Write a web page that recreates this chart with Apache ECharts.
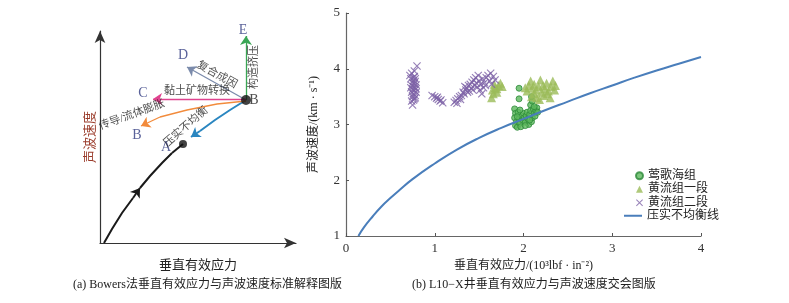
<!DOCTYPE html>
<html lang="zh" style="height: 100%">
<head>
  <meta charset="utf-8" />
  <title>垂直有效应力与声波速度</title>
</head>
<body style="height: 100%; margin: 0; background: #fff">
  <div id="container" style="width: 789px; height: 303px"></div>
  <script src="https://cdn.jsdelivr.net/npm/echarts@6/dist/echarts.min.js"></script>
  <script>
    // ---- (b) 交会图数据 ----
    const seriesNames = ['莺歌海组', '黄流组一段', '黄流组二段', '压实不均衡线'];
    const xTicks = [0, 1, 2, 3, 4];
    const yTicks = [1, 2, 3, 4, 5];

    // 莺歌海组 [应力, 速度]
    const yinggehai = [
      [1.95, 3.65], [1.95, 3.46], [1.90, 3.28], [1.91, 3.20], [1.90, 3.12], [1.92, 3.05], [1.91, 2.98],
      [1.93, 2.95], [1.94, 3.22], [1.95, 3.10], [1.96, 3.02], [1.97, 2.96], [1.98, 3.15], [1.99, 3.08],
      [2.00, 3.20], [2.01, 3.12], [2.02, 3.04], [2.03, 3.16], [2.04, 3.22], [2.05, 3.10], [2.06, 3.00],
      [2.07, 3.18], [2.08, 3.25], [2.08, 3.35], [2.09, 3.05], [2.10, 3.12], [2.10, 3.42], [2.11, 3.28],
      [2.12, 3.20], [2.13, 3.15], [2.14, 3.25], [2.15, 3.30], [2.16, 3.22], [1.93, 3.14], [1.96, 3.26],
      [2.02, 2.98], [2.07, 3.08], [2.12, 3.32], [2.09, 3.50]
    ];
    // 黄流组一段
    const huangliu1 = [
      [1.64, 3.48], [1.66, 3.55], [1.65, 3.62], [1.68, 3.66], [1.70, 3.58], [1.72, 3.70], [1.74, 3.74],
      [1.76, 3.68], [1.67, 3.72], [1.70, 3.64],
      [2.04, 3.60], [2.06, 3.70], [2.08, 3.78], [2.10, 3.65], [2.12, 3.55], [2.12, 3.72], [2.14, 3.62],
      [2.15, 3.48], [2.17, 3.68], [2.19, 3.80], [2.20, 3.58], [2.22, 3.70], [2.23, 3.52], [2.24, 3.64],
      [2.26, 3.74], [2.28, 3.60], [2.30, 3.48], [2.31, 3.68], [2.33, 3.78], [2.35, 3.62], [2.36, 3.70],
      [2.18, 3.45], [2.27, 3.55], [2.09, 3.50], [2.02, 3.66]
    ];
    // 黄流组二段
    const huangliu2 = [
      [0.75, 3.35], [0.74, 3.42], [0.77, 3.46], [0.75, 3.50], [0.78, 3.52], [0.76, 3.55], [0.74, 3.58],
      [0.79, 3.58], [0.77, 3.61], [0.75, 3.63], [0.78, 3.66], [0.76, 3.68], [0.74, 3.70], [0.79, 3.71],
      [0.77, 3.73], [0.75, 3.75], [0.78, 3.77], [0.76, 3.79], [0.73, 3.82], [0.78, 3.82], [0.76, 3.84],
      [0.72, 3.88], [0.74, 3.92], [0.77, 3.96], [0.80, 4.05], [0.78, 3.48], [0.76, 3.44], [0.79, 3.64],
      [0.73, 3.66], [0.77, 3.86],
      [0.97, 3.52], [1.00, 3.50], [1.02, 3.47], [1.04, 3.45], [1.06, 3.42], [1.09, 3.39], [1.03, 3.49],
      [1.07, 3.44],
      [1.22, 3.40], [1.24, 3.43], [1.26, 3.46], [1.25, 3.38], [1.28, 3.50], [1.30, 3.52], [1.29, 3.45],
      [1.32, 3.58], [1.33, 3.55], [1.35, 3.62], [1.36, 3.66], [1.37, 3.58], [1.38, 3.70], [1.40, 3.72],
      [1.41, 3.65], [1.42, 3.76], [1.44, 3.80], [1.45, 3.70], [1.46, 3.84], [1.47, 3.74], [1.48, 3.67],
      [1.50, 3.78], [1.51, 3.62], [1.52, 3.72], [1.53, 3.55], [1.54, 3.82], [1.55, 3.66], [1.56, 3.75],
      [1.57, 3.70], [1.58, 3.84], [1.60, 3.88], [1.62, 3.78], [1.63, 3.92], [1.64, 3.72], [1.66, 3.86],
      [1.68, 3.80], [1.43, 3.62], [1.49, 3.88], [1.34, 3.68], [1.39, 3.60]
    ];
    // 压实不均衡线（读图取点）
    const trendX = [0.14, 0.2, 0.3, 0.4, 0.5, 0.6, 0.75, 1.0, 1.25, 1.5, 1.75, 2.0, 2.25, 2.5, 2.75, 3.0, 3.25, 3.5, 3.75, 4.0];
    const trendV = [1.0, 1.15, 1.35, 1.53, 1.68, 1.82, 2.02, 2.30, 2.55, 2.76, 2.94, 3.10, 3.26, 3.41, 3.56, 3.70, 3.84, 3.97, 4.09, 4.21];

    // ---- (a) 示意图数据（示意坐标） ----
    const curveLoad1 = [[4, 0], [12, 14], [22, 30], [33, 45], [40, 55]];
    const curveLoad2 = [[40, 55], [50, 67], [62, 80], [72, 90], [83, 99]];
    const curveUnder = [[146, 143], [130, 133], [115, 123], [100, 112], [91, 106]];
    const arrowE = [[146, 143], [146, 207]];
    const arrowD = [[146, 143], [87, 176]];
    const arrowC = [[146, 144], [53, 144]];
    const arrowB = [[146, 142], [117, 139], [87, 133], [60, 126], [41, 117]];
    const pointA = [83, 99];
    const pointB = [146, 143];
    // [x, y, 文字, 旋转角, 颜色]
    const notes = [
      [143, 213, 'E', 0, '#2f3a80'],
      [154, 176, '构造挤压', 90, '#222'],
      [83, 188, 'D', 0, '#2f3a80'],
      [117, 168, '复合成因', -29, '#222'],
      [43, 150, 'C', 0, '#2f3a80'],
      [97, 152, '黏土矿物转换', 0, '#222'],
      [37, 108, 'B', 0, '#2f3a80'],
      [32, 128, '传导/流体膨胀', 20, '#222'],
      [66, 96, 'A', 0, '#2f3a80'],
      [86, 116, '压实不均衡', 41, '#222'],
      [154, 143, 'B', 0, '#222']
    ];

    const cjk = '"Liberation Serif", "Noto Sans CJK SC", serif';
    const crossPath = 'path://M0,1L1,0L5,4L9,0L10,1L6,5L10,9L9,10L5,6L1,10L0,9L4,5Z';

    const trendData = [];
    for (let i = 0; i < trendX.length; i++) {
      trendData.push([trendX[i], trendV[i]]);
    }

    // 折线部分 + 最后一段带箭头
    function arrowLine(coords, color, width, showArrow) {
      const style = { color: color, width: width, opacity: 1, curveness: 0 };
      const out = [];
      const n = coords.length;
      if (n > 2) {
        out.push({
          type: 'lines', coordinateSystem: 'cartesian2d', xAxisIndex: 0, yAxisIndex: 0,
          polyline: true, silent: true, lineStyle: style,
          data: [{ coords: coords.slice(0, n - 1) }]
        });
      }
      out.push({
        type: 'lines', coordinateSystem: 'cartesian2d', xAxisIndex: 0, yAxisIndex: 0,
        symbol: ['none', showArrow ? 'arrow' : 'none'], symbolSize: 9,
        silent: true, lineStyle: style,
        data: [{ coords: [coords[n - 2], coords[n - 1]] }]
      });
      return out;
    }

    const dom = document.getElementById('container');
    const myChart = echarts.init(dom, null, { renderer: 'canvas' });

    const series = [].concat(
      arrowLine(curveLoad1, '#1a1a1a', 2, true),
      arrowLine(curveLoad2, '#1a1a1a', 2, false),
      arrowLine(curveUnder, '#2a86c0', 2, true),
      arrowLine(arrowE, '#3aa655', 1.3, true),
      arrowLine(arrowD, '#7b8bab', 1.3, true),
      arrowLine(arrowC, '#e0438f', 1.3, true),
      arrowLine(arrowB, '#f28b3c', 1.3, true)
    );

    series.push(
      {
        type: 'scatter', xAxisIndex: 0, yAxisIndex: 0, silent: true, clip: false,
        symbolSize: function (v, p) { return p.dataIndex === 1 ? 10 : 8; },
        itemStyle: { color: '#111' },
        data: [pointA, pointB]
      },
      {
        type: 'scatter', xAxisIndex: 0, yAxisIndex: 0, silent: true, clip: false,
        symbolSize: 0,
        data: notes.map(function (n) {
          return {
            value: [n[0], n[1]],
            label: {
              show: true, position: 'inside', formatter: n[2], rotate: n[3],
              color: n[4], fontSize: n[2].length === 1 ? 14 : 11, fontFamily: cjk
            }
          };
        })
      },
      // ---- 右图 ----
      {
        name: seriesNames[0], type: 'scatter', xAxisIndex: 1, yAxisIndex: 1,
        symbol: 'circle', symbolSize: 6,
        itemStyle: { color: '#5cb85c', borderColor: '#2d8a3a', borderWidth: 1 },
        data: yinggehai
      },
      {
        name: seriesNames[1], type: 'scatter', xAxisIndex: 1, yAxisIndex: 1,
        symbol: 'triangle', symbolSize: 9,
        itemStyle: { color: '#9bbb59' },
        data: huangliu1
      },
      {
        name: seriesNames[2], type: 'scatter', xAxisIndex: 1, yAxisIndex: 1,
        symbol: crossPath, symbolSize: 8,
        itemStyle: { color: '#7d62a6' },
        data: huangliu2
      },
      {
        name: seriesNames[3], type: 'line', xAxisIndex: 1, yAxisIndex: 1,
        smooth: true, symbol: 'none',
        lineStyle: { color: '#4a7ebb', width: 2 },
        itemStyle: { color: '#4a7ebb' },
        data: trendData
      }
    );

    const legendText = { fontSize: 12, color: '#222', fontFamily: cjk, lineHeight: 13.5 };

    const option = {
      animation: false,
      textStyle: { fontFamily: cjk },
      grid: [
        { left: 100, top: 31, width: 196, height: 212 },
        { left: 346, top: 13, width: 355, height: 223 }
      ],
      xAxis: [
        {
          gridIndex: 0, type: 'value', min: 0, max: 196,
          name: '垂直有效应力', nameLocation: 'middle', nameGap: 16,
          nameTextStyle: { fontSize: 13, color: '#222', fontFamily: cjk },
          axisLine: { show: true, symbol: ['none', 'arrow'], symbolSize: [8, 12], lineStyle: { color: '#333', width: 1.2 } },
          axisTick: { show: false }, axisLabel: { show: false }, splitLine: { show: false }
        },
        {
          gridIndex: 1, type: 'value', min: xTicks[0], max: xTicks[xTicks.length - 1], interval: 1,
          name: '垂直有效应力/(10³lbf · in⁻²)', nameLocation: 'middle', nameGap: 22,
          nameTextStyle: { fontSize: 12, color: '#222', fontFamily: cjk },
          axisLine: { lineStyle: { color: '#666', width: 1.2 } },
          axisTick: { inside: true, length: 3, lineStyle: { color: '#555' } },
          axisLabel: { fontSize: 13, color: '#333', margin: 6, fontFamily: cjk },
          splitLine: { show: false }
        }
      ],
      yAxis: [
        {
          gridIndex: 0, type: 'value', min: 0, max: 212,
          name: '声波速度', nameLocation: 'middle', nameGap: 3, nameRotate: 90,
          nameTextStyle: { fontSize: 13, color: '#9a3b2a', fontFamily: cjk },
          axisLine: { show: true, symbol: ['none', 'arrow'], symbolSize: [8, 12], lineStyle: { color: '#333', width: 1.2 } },
          axisTick: { show: false }, axisLabel: { show: false }, splitLine: { show: false }
        },
        {
          gridIndex: 1, type: 'value', min: yTicks[0], max: yTicks[yTicks.length - 1], interval: 1,
          name: '声波速度/(km · s⁻¹)', nameLocation: 'middle', nameGap: 26, nameRotate: 90,
          nameTextStyle: { fontSize: 12, color: '#222', fontFamily: cjk },
          axisLine: { show: true, lineStyle: { color: '#666', width: 1.2 } },
          axisTick: { inside: true, length: 3, lineStyle: { color: '#555' } },
          axisLabel: { fontSize: 13, color: '#333', margin: 6, fontFamily: cjk },
          splitLine: { show: false }
        }
      ],
      legend: [
        {
          data: seriesNames.slice(0, 3),
          orient: 'vertical', left: 630, top: 164,
          itemWidth: 7, itemHeight: 7, itemGap: 0,
          textStyle: legendText
        },
        {
          data: [seriesNames[3]],
          orient: 'vertical', left: 619, top: 204,
          icon: 'rect', itemWidth: 18, itemHeight: 2,
          textStyle: legendText
        }
      ],
      graphic: [
        { type: 'text', left: 73, top: 279, style: { text: '(a) Bowers法垂直有效应力与声波速度标准解释图版', fontSize: 12, fill: '#222', fontFamily: cjk } },
        { type: 'text', left: 412, top: 279, style: { text: '(b) L10−X井垂直有效应力与声波速度交会图版', fontSize: 12, fill: '#222', fontFamily: cjk } }
      ],
      series: series
    };

    myChart.setOption(option);
    window.onresize = function () {
      myChart.resize();
    };
  </script>
</body>
</html>
